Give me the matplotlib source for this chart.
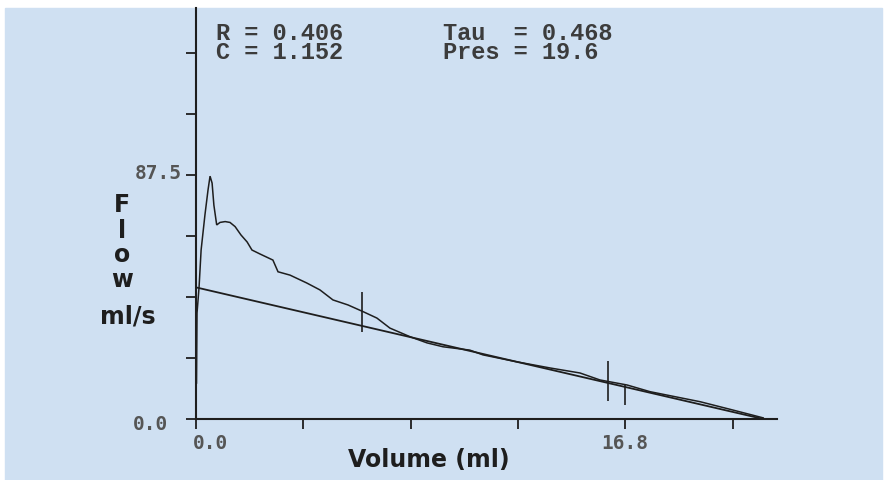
import matplotlib
matplotlib.use('Agg')
import matplotlib.pyplot as plt
from matplotlib.patches import Rectangle
import matplotlib.transforms as mtransforms

# measured flow-volume curve (ml, ml/s)
meas_vol = [0.02, 0.04, 0.12, 0.20, 0.35, 0.47, 0.55, 0.63, 0.70, 0.81, 0.94, 1.14,
            1.33, 1.53, 1.76, 2.00, 2.19, 2.50, 3.01, 3.21, 3.68, 4.33, 4.85, 5.36,
            5.95, 6.54, 7.08, 7.59, 8.38, 9.04, 9.67, 10.72, 11.23, 12.56, 13.86,
            15.03, 15.81, 16.87, 17.77, 19.73, 21.02, 22.20]
meas_flow = [12.9, 38.0, 47.3, 60.6, 73.2, 82.1, 87.1, 84.6, 76.7, 69.6, 70.5, 70.8,
             70.5, 69.0, 66.0, 63.5, 60.6, 59.2, 57.0, 52.8, 51.6, 48.8, 46.3, 42.7,
             40.9, 38.5, 36.2, 32.6, 29.5, 27.3, 25.9, 24.7, 23.0, 20.5, 18.3,
             16.5, 14.0, 12.2, 9.8, 6.2, 3.2, 0.4]

# fitted line
fit_vol = [0.05, 22.2]
fit_flow = [47.1, 0.0]

# cursor marks
cur_vol = [6.51, 16.14, 16.80]
cur_lo = [31.3, 6.6, 5.0]
cur_hi = [45.5, 20.9, 12.2]

x_ticks = [0.0, 4.2, 8.4, 12.6, 16.8, 21.0]
x_labels = ['0.0', '', '', '', '16.8', '']
y_ticks = [0.0, 21.875, 43.75, 65.625, 87.5, 109.375, 131.25]
y_labels = ['0.0', '', '', '', '87.5', '', '']

# multi-line texts are anchored on their last baseline
params = [('R = 0.406\nC = 1.152', 216, 59), ('Tau  = 0.468\nPres = 19.6', 443, 59)]
ylab_parts = [('F', 122, 212), ('l', 122, 238), ('o', 122, 262),
              ('w', 122, 287), ('ml/s', 128, 324)]

W, H = 884, 480
BG = '#cfe0f2'
INK = '#1e1e1e'


def px(x, y):
    return x / W, 1 - y / H


fig = plt.figure(figsize=(W / 100, H / 100), dpi=100)
fig.patch.set_facecolor('white')
fig.add_artist(Rectangle((5 / W, 0), (882 - 5) / W, (H - 8) / H,
                         transform=fig.transFigure, color=BG, zorder=0))

ax = fig.add_axes([196 / W, 1 - 419 / H, (777 - 196) / W, (419 - 8) / H])
ax.set_facecolor('none')
ax.set_xlim(0, 22.74)
ax.set_ylim(0, 147.4)

ax.plot(meas_vol, meas_flow, color=INK, lw=1.1, solid_joinstyle='miter')
ax.plot(fit_vol, fit_flow, color=INK, lw=1.3)
ax.vlines(cur_vol, cur_lo, cur_hi, color=INK, lw=1.2)

for side in ['top', 'right']:
    ax.spines[side].set_visible(False)
for side in ['left', 'bottom']:
    ax.spines[side].set_color(INK)
    ax.spines[side].set_linewidth(1.5)

ax.set_xticks(x_ticks)
ax.set_xticklabels(x_labels)
ax.set_yticks(y_ticks)
ax.set_yticklabels(y_labels)
ax.tick_params(direction='out', length=7, width=1.3, color=INK,
               labelcolor='#555555', labelsize=14)
ax.tick_params(axis='x', pad=4)
ax.tick_params(axis='y', pad=3)
for lab in ax.get_xticklabels() + ax.get_yticklabels():
    lab.set_family('DejaVu Sans Mono')
    lab.set_weight('bold')

# nudge the two zero labels like the original layout
xl0 = ax.get_xticklabels()[0]
xl0.set_transform(xl0.get_transform() + mtransforms.ScaledTranslation(14 / 100, 0, fig.dpi_scale_trans))
yl0 = ax.get_yticklabels()[0]
yl0.set_transform(yl0.get_transform() + mtransforms.ScaledTranslation(-14 / 100, -4 / 100, fig.dpi_scale_trans))
yl4 = ax.get_yticklabels()[4]
yl4.set_transform(yl4.get_transform() + mtransforms.ScaledTranslation(0, 4 / 100, fig.dpi_scale_trans))

ax.set_xlabel('Volume (ml)', fontsize=17, fontweight='bold', color=INK,
              family='DejaVu Sans', va='center')
ax.xaxis.set_label_coords((429 - 196) / 581, (419 - 460) / 411)

for txt, x, y in ylab_parts:
    fig.text(*px(x, y), txt, ha='center', va='baseline', fontsize=17,
             fontweight='bold', color=INK, family='DejaVu Sans')

for txt, x, y in params:
    fig.text(*px(x, y), txt, ha='left', va='baseline', fontsize=17,
             fontweight='bold', color='#3c3c3c', family='Liberation Mono',
             linespacing=0.8)

fig.savefig('out.png', dpi=100, facecolor=fig.get_facecolor())
